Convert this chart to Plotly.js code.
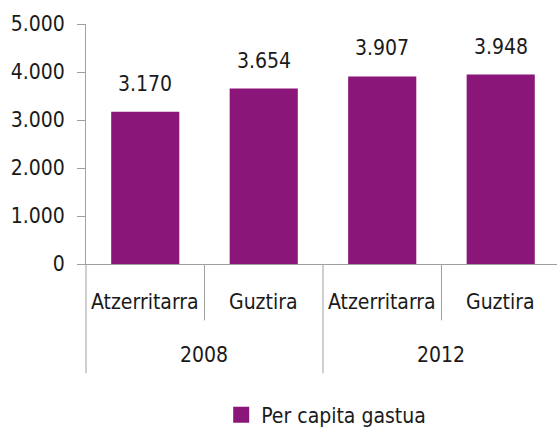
<!DOCTYPE html>
<html><head><meta charset="utf-8">
<script src="https://cdn.plot.ly/plotly-3.0.1.min.js"></script>
<style>html,body{margin:0;padding:0;background:#fff}</style>
</head><body><div id="chart" style="width:557px;height:427px"></div>
<script>
const years = ["2008", "2008", "2012", "2012"];
const groups = ["Atzerritarra", "Guztira", "Atzerritarra", "Guztira"];
const values = [3170, 3654, 3907, 3948];
const yTickVals = [0, 1000, 2000, 3000, 4000, 5000];
const yTickText = ["0", "1.000", "2.000", "3.000", "4.000", "5.000"];
const seriesName = "Per capita gastua";

const FONT = '"DejaVu Sans Condensed", "Liberation Sans Narrow", sans-serif';
const COLOR = '#8B1679';
const LINE = '#a0a0a0';
const TXT = '#1a1a1a';
const FS = 21;
const idx = values.map((v, i) => i);
const fmt = v => String(v).replace(/\B(?=(\d{3})+(?!\d))/g, '.');

const annotations = [];
values.forEach((v, i) => annotations.push({x: i, y: v, xref: 'x', yref: 'y', text: fmt(v), showarrow: false, yanchor: 'bottom', yshift: 14, font: {family: FONT, size: FS, color: TXT}}));
groups.forEach((g, i) => annotations.push({x: i, y: 0, xref: 'x', yref: 'y', text: g, showarrow: false, yanchor: 'middle', yshift: -38, font: {family: FONT, size: FS, color: TXT}}));
const uniqYears = [...new Set(years)];
uniqYears.forEach(yr => {
  const ii = idx.filter(i => years[i] === yr);
  const cx = (Math.min(...ii) + Math.max(...ii)) / 2;
  annotations.push({x: cx, y: 0, xref: 'x', yref: 'y', text: yr, showarrow: false, yanchor: 'middle', yshift: -91, font: {family: FONT, size: FS, color: TXT}});
});

const shapes = [];
shapes.push({type: 'line', xref: 'paper', yref: 'paper', x0: 0, x1: 0, y0: 0, y1: -0.455, line: {color: LINE, width: 1}});
for (let i = 0; i < values.length - 1; i++) {
  const boundary = years[i] !== years[i + 1];
  shapes.push({type: 'line', xref: 'x', yref: 'paper', x0: i + 0.5, x1: i + 0.5, y0: 0, y1: boundary ? -0.455 : -0.235, line: {color: LINE, width: 1}});
}

const data = [
  {type: 'bar', x: idx, y: values, marker: {color: COLOR}, width: 0.575, showlegend: false, hoverinfo: 'none'},
  {type: 'scatter', mode: 'markers', x: [null], y: [null], name: seriesName, marker: {symbol: 'square', size: 16, color: COLOR}, showlegend: true}
];

const layout = {
  width: 557, height: 427,
  margin: {l: 86, r: 0, t: 24, b: 163, autoexpand: false},
  paper_bgcolor: '#fff', plot_bgcolor: '#fff',
  font: {family: FONT, size: FS, color: TXT},
  showlegend: true,
  legend: {orientation: 'h', x: 0.51, xanchor: 'center', y: -0.63, yanchor: 'middle', font: {family: FONT, size: FS, color: TXT}, itemwidth: 30},
  xaxis: {range: [-0.5, 3.475], showticklabels: false, ticks: '', showgrid: false, zeroline: false, showline: true, linecolor: LINE, linewidth: 1, fixedrange: true},
  yaxis: {range: [0, 5000], tickvals: yTickVals, ticktext: yTickText, ticks: 'outside', ticklen: 8, tickcolor: LINE, showgrid: false, zeroline: false, showline: true, linecolor: LINE, linewidth: 1, tickfont: {family: FONT, size: FS, color: TXT}, ticklabelstandoff: 8, fixedrange: true},
  annotations: annotations,
  shapes: shapes
};

Plotly.newPlot('chart', data, layout, {displayModeBar: false, staticPlot: true});
</script></body></html>
